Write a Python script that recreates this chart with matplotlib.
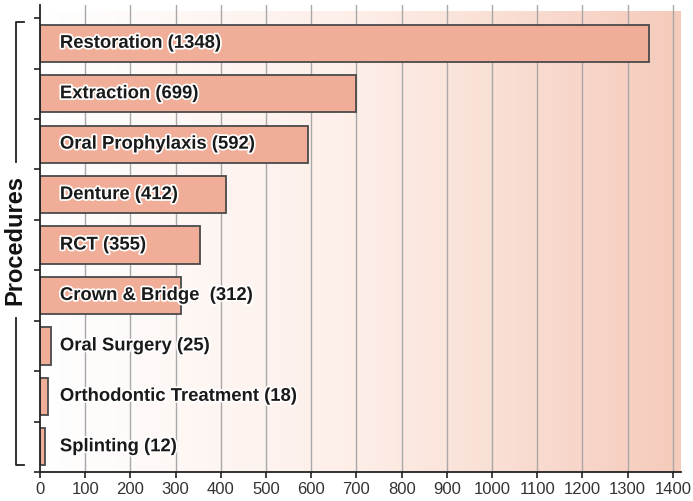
import numpy as np
import matplotlib.pyplot as plt
import matplotlib.patheffects as pe
from matplotlib.colors import LinearSegmentedColormap

# procedures and counts (top to bottom)
procedures = ['Restoration', 'Extraction', 'Oral Prophylaxis', 'Denture', 'RCT',
              'Crown & Bridge ', 'Oral Surgery', 'Orthodontic Treatment', 'Splinting']
counts = [1348, 699, 592, 412, 355, 312, 25, 18, 12]
xticks = list(range(0, 1401, 100))

plt.rcParams['font.family'] = ['Liberation Sans', 'DejaVu Sans']

fig = plt.figure(figsize=(6.93, 5.01), dpi=100)
ax = fig.add_axes([40 / 693, 1 - 472 / 501, 641 / 693, 467 / 501])

y = np.arange(len(procedures))
ax.set_xlim(0, 1418)
ax.set_ylim(8.5, -0.76)

# gradient background
grad = np.linspace(0, 1, 256).reshape(1, -1)
cmap = LinearSegmentedColormap.from_list('bg', ['#ffffff', '#fdeee8', '#f5cbbb'])
ax.imshow(grad, cmap=cmap, aspect='auto', extent=[0, 1418, 8.5, -0.64], zorder=0)

for xv in xticks[1:]:
    ax.axvline(xv, color='#a8a8a8', lw=1.0, zorder=1)

ax.barh(y, counts, height=0.74, color='#f0ae98', edgecolor='#4a4a4a', lw=1.3, zorder=2)

for yi, name, c in zip(y, procedures, counts):
    ax.text(44, yi, f'{name} ({c})', va='center', ha='left', fontsize=13.3,
            fontweight='bold', color='#1a1a1a', zorder=3,
            path_effects=[pe.withStroke(linewidth=2.5, foreground='white')])

ax.set_xticks(xticks)
ax.set_xticklabels([str(v) for v in xticks], fontsize=12, color='#333333')
ax.set_yticks(np.arange(-0.5, 9, 1))
ax.set_yticklabels([])
ax.tick_params(axis='y', direction='out', length=4, width=1.2, color='#222222')
ax.tick_params(axis='x', direction='out', length=4, width=1.2, color='#222222', pad=3)
for s in ['top', 'right']:
    ax.spines[s].set_visible(False)
for s in ['left', 'bottom']:
    ax.spines[s].set_linewidth(1.3)
    ax.spines[s].set_color('#222222')

# bracketed "Procedures" label
fig.text(15 / 693, 1 - 240 / 501, 'Procedures', rotation=90, ha='center', va='center',
         fontsize=17, fontweight='bold', color='#111111')
fig.add_artist(plt.Line2D([24 / 693, 16 / 693, 16 / 693], [1 - 22 / 501, 1 - 22 / 501, 1 - 162 / 501],
                          color='#222222', lw=1.3))
fig.add_artist(plt.Line2D([16 / 693, 16 / 693, 24 / 693], [1 - 318 / 501, 1 - 465 / 501, 1 - 465 / 501],
                          color='#222222', lw=1.3))

fig.savefig('out.png', dpi=100)
